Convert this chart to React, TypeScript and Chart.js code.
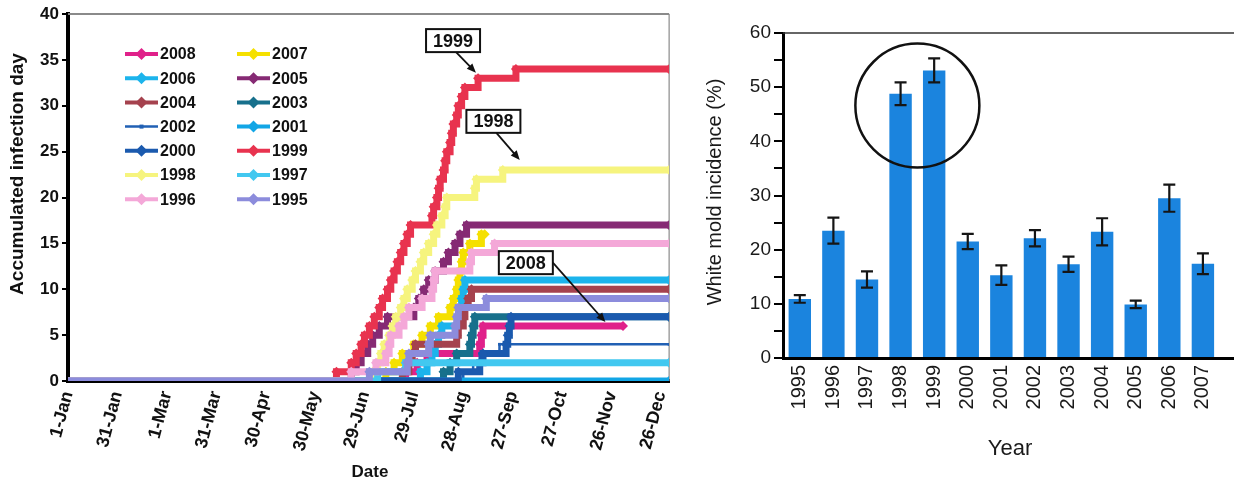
import React, { useEffect, useRef } from 'react';
import { Chart, registerables } from 'chart.js';

Chart.register(...registerables);
Chart.defaults.font.family = '"Liberation Sans", Arial, sans-serif';

// ---------- Left panel data ----------
const dateTickLabels = ['1-Jan', '31-Jan', '1-Mar', '31-Mar', '30-Apr', '30-May', '29-Jun', '29-Jul', '28-Aug', '27-Sep', '27-Oct', '26-Nov', '26-Dec'];

const seriesYears = ['2008', '2007', '2006', '2005', '2004', '2003', '2002', '2001', '2000', '1999', '1998', '1997', '1996', '1995'];
const seriesColors = ['#e0218a', '#f5e000', '#1cb4ec', '#862a74', '#a5424e', '#17708c', '#2160b4', '#12a6e6', '#1b5aae', '#e8334f', '#f6f47e', '#42c8f0', '#f4a8d8', '#8c8cdc'];

// day of year (0 = 1-Jan) on which each new infection day was added
const days2008 = [205, 212, 218, 250, 251, 252];
const days2007 = [193, 198, 203, 210, 215, 220, 225, 232, 234, 236, 237, 238, 239, 240, 244, 251];
const days2006 = [214, 218, 221, 223, 225, 227, 237, 238, 239, 240, 241];
const days2005 = [172, 175, 178, 182, 185, 189, 194, 210, 213, 216, 219, 223, 228, 231, 235, 238, 242];
const days2004 = [203, 207, 209, 211, 236, 237, 240, 241, 243, 245];
const days2003 = [228, 232, 236, 244, 245, 246, 247];
const days2002 = [240, 246, 250, 262];
const days2001: number[] = [];
const days2000 = [237, 250, 252, 266, 267, 268, 269];
const days1999 = [163, 172, 175, 178, 180, 183, 186, 189, 191, 194, 196, 198, 200, 202, 204, 206, 208, 221, 222, 224, 225, 226, 228, 229, 230, 232, 233, 234, 236, 237, 239, 241, 249, 272];
const days1998 = [185, 188, 190, 192, 195, 197, 199, 202, 204, 206, 209, 211, 214, 216, 219, 222, 224, 227, 229, 230, 247, 248, 264];
const days1997 = [188, 205];
const days1996 = [172, 187, 193, 195, 196, 201, 204, 207, 215, 221, 222, 223, 244, 245, 259];
const days1995 = [183, 206, 207, 219, 220, 235, 236, 237, 254];

const seriesEventDays = [days2008, days2007, days2006, days2005, days2004, days2003, days2002, days2001, days2000, days1999, days1998, days1997, days1996, days1995];
const seriesEndDays = [337, 253, 365, 365, 365, 365, 365, 365, 365, 365, 365, 365, 365, 365];

// callouts: label, box centre (day, value), arrow tip (day, value)
const calloutLabels = ['1999', '1998', '2008'];
const calloutBoxAt = [[233.8, 37.1], [258.3, 28.3], [278, 12.9]];
const calloutTipAt = [[247.7, 33.6], [274.3, 24.1], [326.3, 6.43]];

// ---------- Right panel data ----------
const barYears = ['1995', '1996', '1997', '1998', '1999', '2000', '2001', '2002', '2003', '2004', '2005', '2006', '2007'];
const moldIncidence = [10.9, 23.5, 14.5, 48.8, 53.1, 21.5, 15.3, 22.1, 17.3, 23.3, 9.9, 29.5, 17.4];
const moldError = [0.7, 2.4, 1.5, 2.1, 2.2, 1.4, 1.8, 1.5, 1.4, 2.5, 0.7, 2.5, 1.9];

const FONT = '"Liberation Sans", Arial, sans-serif';

function drawDiamond(ctx: CanvasRenderingContext2D, x: number, y: number, r: number, color: string) {
  ctx.beginPath();
  ctx.moveTo(x, y - r);
  ctx.lineTo(x + r, y);
  ctx.lineTo(x, y + r);
  ctx.lineTo(x - r, y);
  ctx.closePath();
  ctx.fillStyle = color;
  ctx.fill();
}

function drawArrow(ctx: CanvasRenderingContext2D, x1: number, y1: number, x2: number, y2: number) {
  const ang = Math.atan2(y2 - y1, x2 - x1);
  const hl = 10;
  ctx.strokeStyle = '#111';
  ctx.lineWidth = 1.8;
  ctx.beginPath();
  ctx.moveTo(x1, y1);
  ctx.lineTo(x2 - Math.cos(ang) * hl * 0.8, y2 - Math.sin(ang) * hl * 0.8);
  ctx.stroke();
  ctx.fillStyle = '#111';
  ctx.beginPath();
  ctx.moveTo(x2, y2);
  ctx.lineTo(x2 - hl * Math.cos(ang - 0.4), y2 - hl * Math.sin(ang - 0.4));
  ctx.lineTo(x2 - hl * Math.cos(ang + 0.4), y2 - hl * Math.sin(ang + 0.4));
  ctx.closePath();
  ctx.fill();
}

const leftDecor = {
  id: 'leftDecor',
  beforeDatasetsDraw(chart: any) {
    const { ctx, chartArea } = chart;
    ctx.save();
    ctx.strokeStyle = '#8a8a8a';
    ctx.lineWidth = 2;
    ctx.beginPath();
    ctx.moveTo(chartArea.left, chartArea.top);
    ctx.lineTo(chartArea.right, chartArea.top);
    ctx.stroke();
    ctx.lineWidth = 1.2;
    ctx.beginPath();
    ctx.moveTo(chartArea.right, chartArea.top);
    ctx.lineTo(chartArea.right, chartArea.bottom);
    ctx.stroke();
    ctx.restore();
  },
  afterDraw(chart: any) {
    const { ctx } = chart;
    const xs = chart.scales.x;
    const ys = chart.scales.y;
    ctx.save();
    // legend (two columns)
    seriesYears.forEach((yr, k) => {
      const col = k % 2;
      const row = Math.floor(k / 2);
      const lx = col === 0 ? 125 : 237;
      const ly = 54 + row * 24.2;
      const color = seriesColors[k];
      const thin = yr === '2002';
      ctx.strokeStyle = color;
      ctx.lineWidth = thin ? 2.5 : 4;
      ctx.beginPath();
      ctx.moveTo(lx, ly);
      ctx.lineTo(lx + 33, ly);
      ctx.stroke();
      if (thin) {
        ctx.fillStyle = color;
        ctx.fillRect(lx + 14.5, ly - 2, 4, 4);
      } else {
        drawDiamond(ctx, lx + 16.5, ly, 6, color);
      }
      ctx.fillStyle = '#111';
      ctx.font = `bold 16px ${FONT}`;
      ctx.textAlign = 'left';
      ctx.textBaseline = 'middle';
      ctx.fillText(yr, lx + 35, ly + 1);
    });
    // callouts
    calloutLabels.forEach((lab, i) => {
      const bx = xs.getPixelForValue(calloutBoxAt[i][0]);
      const by = ys.getPixelForValue(calloutBoxAt[i][1]);
      const tx = xs.getPixelForValue(calloutTipAt[i][0]);
      const ty = ys.getPixelForValue(calloutTipAt[i][1]);
      const w = 54, h = 23;
      let sx = bx, sy = by + h / 2;
      if (lab === '2008') { sx = bx + w / 2; sy = by; }
      else { sx = bx + 3; }
      drawArrow(ctx, sx, sy, tx, ty);
      ctx.fillStyle = '#fff';
      ctx.fillRect(bx - w / 2, by - h / 2, w, h);
      ctx.strokeStyle = '#111';
      ctx.lineWidth = 2;
      ctx.strokeRect(bx - w / 2, by - h / 2, w, h);
      ctx.fillStyle = '#111';
      ctx.font = `bold 18px ${FONT}`;
      ctx.textAlign = 'center';
      ctx.textBaseline = 'middle';
      ctx.fillText(lab, bx, by + 1);
    });
    // titles
    ctx.fillStyle = '#111';
    ctx.font = `bold 19px ${FONT}`;
    ctx.textAlign = 'center';
    ctx.textBaseline = 'middle';
    ctx.save();
    ctx.translate(18, 174);
    ctx.rotate(-Math.PI / 2);
    ctx.fillText('Accumulated infection day', 0, 0);
    ctx.restore();
    ctx.font = `bold 17px ${FONT}`;
    ctx.fillText('Date', 370, 472);
    ctx.restore();
  },
};

const rightDecor = {
  id: 'rightDecor',
  afterDatasetsDraw(chart: any) {
    const { ctx } = chart;
    const xs = chart.scales.x;
    const ys = chart.scales.y;
    ctx.save();
    ctx.strokeStyle = '#151515';
    ctx.lineWidth = 2.2;
    moldIncidence.forEach((v, i) => {
      const x = xs.getPixelForValue(i);
      const yt = ys.getPixelForValue(v + moldError[i]);
      const yb = ys.getPixelForValue(v - moldError[i]);
      ctx.beginPath();
      ctx.moveTo(x, yt);
      ctx.lineTo(x, yb);
      ctx.moveTo(x - 6, yt);
      ctx.lineTo(x + 6, yt);
      ctx.moveTo(x - 6, yb);
      ctx.lineTo(x + 6, yb);
      ctx.stroke();
    });
    ctx.restore();
  },
  afterDraw(chart: any) {
    const { ctx, chartArea, width } = chart;
    const xs = chart.scales.x;
    const ys = chart.scales.y;
    ctx.save();
    // top frame line
    ctx.strokeStyle = '#333';
    ctx.lineWidth = 1.5;
    ctx.beginPath();
    ctx.moveTo(chartArea.left, chartArea.top);
    ctx.lineTo(width, chartArea.top);
    ctx.stroke();
    // axis extension
    ctx.strokeStyle = '#000';
    ctx.lineWidth = 3;
    ctx.beginPath();
    ctx.moveTo(chartArea.right - 2, chartArea.bottom + 0.5);
    ctx.lineTo(width, chartArea.bottom + 0.5);
    ctx.stroke();
    // circle around 1998/1999
    const cx = (xs.getPixelForValue(3) + xs.getPixelForValue(4)) / 2;
    const cy = ys.getPixelForValue(46.6);
    ctx.strokeStyle = '#111';
    ctx.lineWidth = 2.5;
    ctx.beginPath();
    ctx.arc(cx, cy, 62, 0, Math.PI * 2);
    ctx.stroke();
    // titles
    ctx.fillStyle = '#1a1a1a';
    ctx.textAlign = 'center';
    ctx.textBaseline = 'middle';
    ctx.font = `20px ${FONT}`;
    ctx.save();
    ctx.translate(25, 192);
    ctx.rotate(-Math.PI / 2);
    ctx.fillText('White mold incidence (%)', 0, 0);
    ctx.restore();
    ctx.font = `22px ${FONT}`;
    ctx.fillText('Year', 320, 449);
    ctx.restore();
  },
};

export default function App() {
  const leftRef = useRef<HTMLCanvasElement>(null);
  const rightRef = useRef<HTMLCanvasElement>(null);

  useEffect(() => {
    const leftDatasets = seriesYears.map((yr, i) => {
      const days = seriesEventDays[i];
      const pts = [{ x: 0, y: 0 }, ...days.map((d, k) => ({ x: d, y: k + 1 })), { x: seriesEndDays[i], y: days.length }];
      const thin = yr === '2002';
      return {
        label: yr,
        data: pts,
        borderColor: seriesColors[i],
        backgroundColor: seriesColors[i],
        borderWidth: thin ? 2.5 : 7,
        stepped: true,
        pointStyle: thin ? 'rect' : 'rectRot',
        pointRadius: pts.map((_, k) => (k === 0 ? 0 : thin ? 2 : 5)),
        pointBorderWidth: 0,
        order: 13 - i,
      };
    });

    const c1 = new Chart(leftRef.current as HTMLCanvasElement, {
      type: 'line',
      data: { datasets: leftDatasets as any },
      options: {
        animation: false,
        responsive: true,
        maintainAspectRatio: false,
        layout: { padding: { top: 14, right: 18, left: 0, bottom: 0 } },
        plugins: { legend: { display: false }, tooltip: { enabled: false } },
        scales: {
          x: {
            type: 'linear',
            min: 0,
            max: 365,
            afterFit: (s: any) => { s.height = 104; },
            grid: { display: false, drawTicks: false },
            border: { display: true, color: '#000', width: 4 },
            ticks: {
              stepSize: 30,
              includeBounds: false,
              maxTicksLimit: 20,
              autoSkip: false,
              minRotation: 75,
              maxRotation: 75,
              padding: 8,
              color: '#111',
              font: { size: 18, weight: 'bold' },
              callback: (v: any) => dateTickLabels[Math.round(Number(v) / 30)] ?? '',
            },
          },
          y: {
            min: 0,
            max: 40,
            afterFit: (s: any) => { s.width = 68; },
            grid: { display: true, drawOnChartArea: false, drawTicks: true, tickLength: 6, color: '#000', lineWidth: 2 },
            border: { display: true, color: '#000', width: 4 },
            ticks: { stepSize: 5, padding: 3, color: '#111', font: { size: 17, weight: 'bold' } },
          },
        },
      } as any,
      plugins: [leftDecor],
    });

    const c2 = new Chart(rightRef.current as HTMLCanvasElement, {
      type: 'bar',
      data: {
        labels: barYears,
        datasets: [
          {
            label: 'White mold incidence',
            data: moldIncidence,
            backgroundColor: '#1b84de',
            barPercentage: 0.667,
            categoryPercentage: 1,
          },
        ],
      },
      options: {
        animation: false,
        responsive: true,
        maintainAspectRatio: false,
        layout: { padding: { top: 33, right: 2.5, left: 0, bottom: 0 } },
        plugins: { legend: { display: false }, tooltip: { enabled: false } },
        scales: {
          x: {
            afterFit: (s: any) => { s.height = 127; },
            grid: { display: false, drawTicks: false },
            border: { display: true, color: '#000', width: 3 },
            ticks: { minRotation: 90, maxRotation: 90, padding: 7, color: '#1a1a1a', font: { size: 20 } },
          },
          y: {
            min: 0,
            max: 60,
            afterFit: (s: any) => { s.width = 93; },
            grid: { display: true, drawOnChartArea: false, drawTicks: true, tickLength: 9, color: '#000', lineWidth: 2 },
            border: { display: true, color: '#000', width: 3 },
            ticks: {
              stepSize: 5,
              padding: 3,
              color: '#1a1a1a',
              font: { size: 19 },
              callback: (v: any) => (Number(v) % 10 === 0 ? String(v) : ''),
            },
          },
        },
      } as any,
      plugins: [rightDecor],
    });

    return () => {
      c1.destroy();
      c2.destroy();
    };
  }, []);

  return (
    <div style={{ position: 'fixed', left: 0, top: 0, width: 1234, height: 485, background: '#fff' }}>
      <div style={{ position: 'absolute', left: 0, top: 0, width: 690, height: 485 }}>
        <canvas ref={leftRef} />
      </div>
      <div style={{ position: 'absolute', left: 690, top: 0, width: 544, height: 485 }}>
        <canvas ref={rightRef} />
      </div>
    </div>
  );
}
